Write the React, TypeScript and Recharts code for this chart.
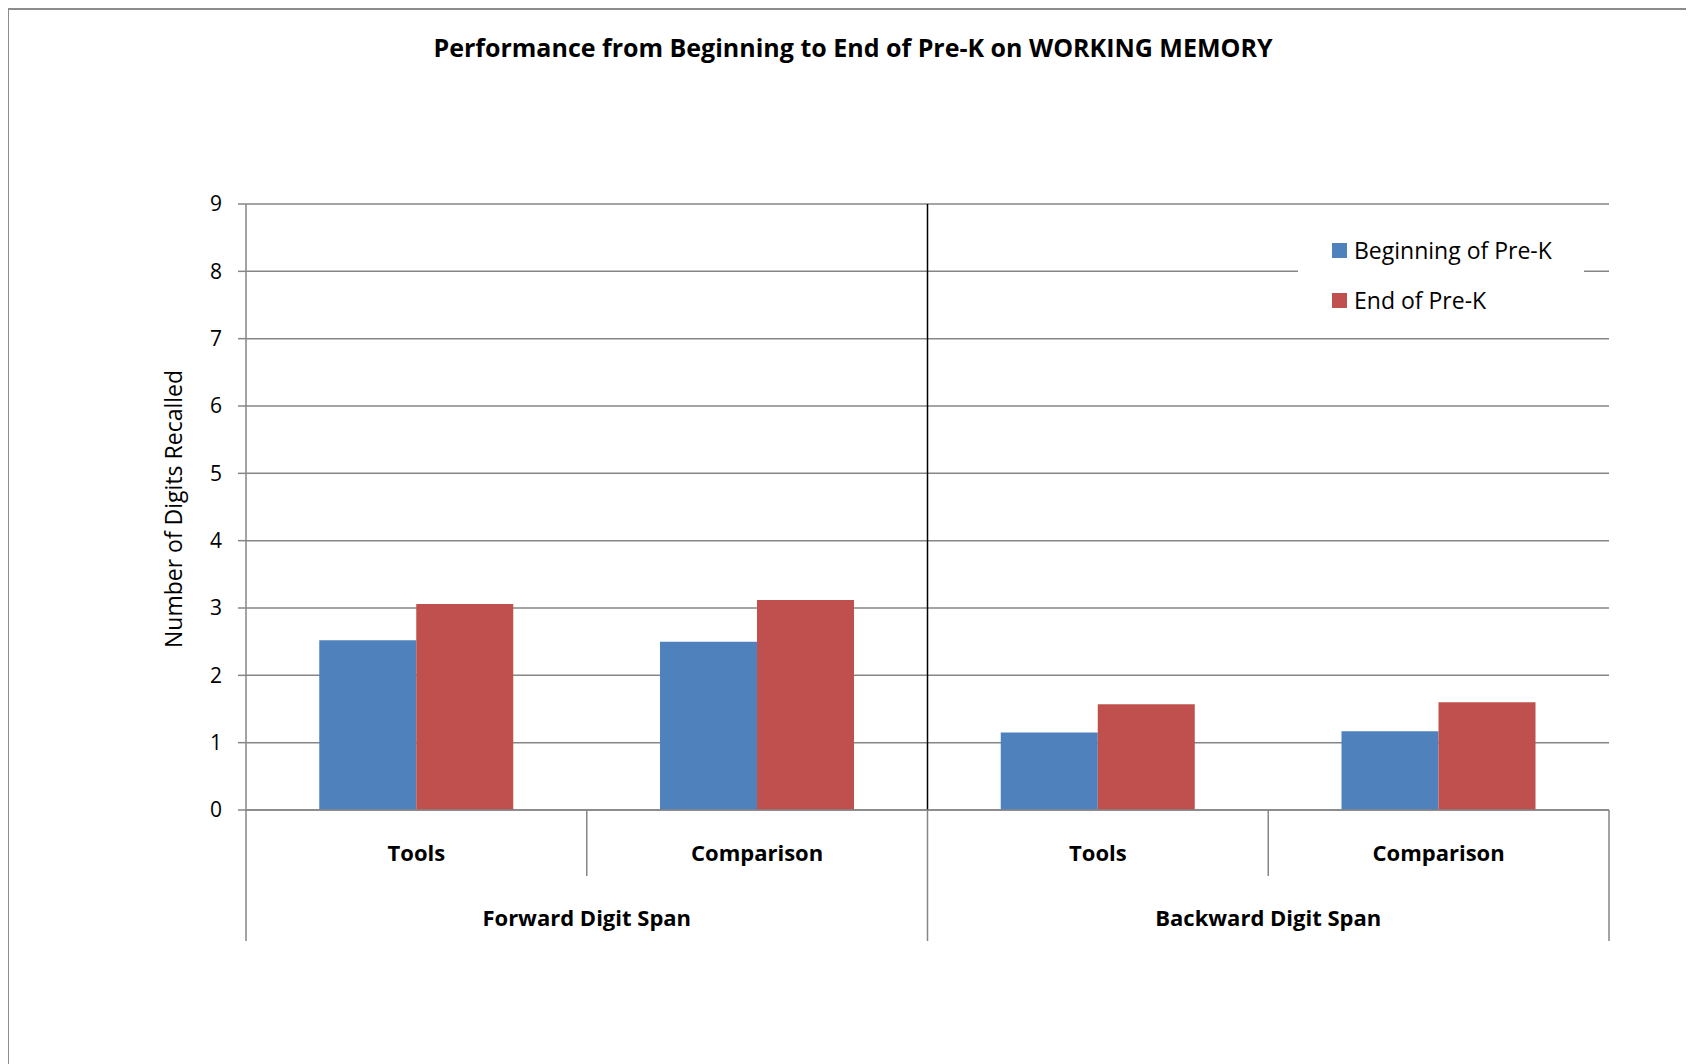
import React from "react";
import {
  BarChart,
  Bar,
  XAxis,
  YAxis,
  CartesianGrid,
  ReferenceLine,
} from "recharts";

// ---- data ----
const categoryKeys = ["fwd-tools", "fwd-comparison", "bwd-tools", "bwd-comparison"];
const categoryLabels = ["Tools", "Comparison", "Tools", "Comparison"];
const groupLabels = ["Forward Digit Span", "Backward Digit Span"];
const seriesNames = ["Beginning of Pre-K", "End of Pre-K"];
const beginningValues = [2.52, 2.5, 1.15, 1.17];
const endValues = [3.06, 3.12, 1.57, 1.6];
const yTicks = [0, 1, 2, 3, 4, 5, 6, 7, 8, 9];
const titleText = "Performance from Beginning to End of Pre-K on WORKING MEMORY";
const yAxisTitle = "Number of Digits Recalled";

const seriesColors = ["#4F81BD", "#C0504D"];

const data = categoryKeys.map((k, i) => ({
  key: k,
  beginning: beginningValues[i],
  end: endValues[i],
}));

// ---- layout ----
const FONT = "'Open Sans', 'Noto Sans', sans-serif";
const W = 1685;
const H = 1055;
const M = { top: 194, right: 85, left: 177, bottom: 115 };
const Y_AXIS_W = 60;
const X_AXIS_H = 140;
const PLOT_W = W - M.left - Y_AXIS_W - M.right;
const HALF_BAND = PLOT_W / categoryKeys.length / 2;
const GRID = "#868686";

const CategoryTick = (props: any) => {
  const { x, y, index } = props;
  const half = props?.payload?.offset && props.payload.offset > 10 ? props.payload.offset : HALF_BAND;
  const label = categoryLabels[index];
  const isGroupStart = index % 2 === 0;
  const isLast = index === categoryKeys.length - 1;
  const groupIdx = Math.floor(index / 2);
  return (
    <g>
      <text
        x={x}
        y={y + 42}
        textAnchor="middle"
        dominantBaseline="central"
        fontFamily={FONT}
        fontWeight={700}
        fontSize={22}
        fill="#000"
      >
        {label}
      </text>
      {isGroupStart ? (
        <>
          <line x1={x - half} x2={x - half} y1={y} y2={y + 131} stroke={GRID} strokeWidth={1.5} />
          <line x1={x + half} x2={x + half} y1={y} y2={y + 66} stroke={GRID} strokeWidth={1.5} />
          <text
            x={x + half}
            y={y + 107}
            textAnchor="middle"
            dominantBaseline="central"
            fontFamily={FONT}
            fontWeight={700}
            fontSize={22}
            fill="#000"
          >
            {groupLabels[groupIdx]}
          </text>
        </>
      ) : null}
      {isLast ? (
        <line x1={x + half} x2={x + half} y1={y} y2={y + 131} stroke={GRID} strokeWidth={1.5} />
      ) : null}
    </g>
  );
};

export default function App() {
  return (
    <div
      style={{
        position: "relative",
        width: 1686,
        height: 1056,
        boxSizing: "border-box",
        borderLeft: "1.5px solid #8c8c8c",
        borderTop: "2px solid #8c8c8c",
        background: "#fff",
        fontFamily: FONT,
      }}
    >
      <style>{"html,body{overflow:hidden}"}</style>
      <div
        style={{
          position: "absolute",
          left: 0,
          width: 1688,
          top: 20,
          textAlign: "center",
          fontWeight: 700,
          fontSize: 25,
          lineHeight: "34px",
          color: "#000",
        }}
      >
        {titleText}
      </div>
      <div
        style={{
          position: "absolute",
          left: 164 - 200,
          top: 499 - 16,
          width: 400,
          height: 32,
          lineHeight: "32px",
          textAlign: "center",
          fontSize: 23,
          color: "#000",
          transform: "rotate(-90deg)",
        }}
      >
        {yAxisTitle}
      </div>
      <div style={{ position: "absolute", left: 0, top: 0 }}>
        <BarChart
          width={W}
          height={H}
          data={data}
          margin={M}
          barCategoryGap="21.5%"
          barGap={0}
        >
          <CartesianGrid horizontal vertical={false} stroke={GRID} strokeWidth={1.5} />
          <XAxis
            dataKey="key"
            height={X_AXIS_H}
            axisLine={{ stroke: GRID, strokeWidth: 1.5 }}
            tickLine={false}
            tickSize={0}
            tickMargin={0}
            interval={0}
            tick={<CategoryTick />}
          />
          <YAxis
            width={Y_AXIS_W}
            domain={[0, 9]}
            ticks={yTicks}
            interval={0}
            axisLine={{ stroke: GRID, strokeWidth: 1.5 }}
            tickLine={{ stroke: GRID, strokeWidth: 1.5 }}
            tickSize={8}
            tickMargin={16}
            tick={{ fill: "#000", fontSize: 21, fontFamily: FONT }}
          />
          <ReferenceLine x={categoryKeys[2]} position="start" stroke="#000" strokeWidth={1.5} />
          <Bar dataKey="beginning" name={seriesNames[0]} fill={seriesColors[0]} isAnimationActive={false} />
          <Bar dataKey="end" name={seriesNames[1]} fill={seriesColors[1]} isAnimationActive={false} />
        </BarChart>
      </div>
      <div
        style={{
          position: "absolute",
          left: 1298 - 9,
          top: 224 - 9,
          width: 286,
          height: 100,
          background: "#fff",
        }}
      >
        {seriesNames.map((n, i) => (
          <div
            key={n}
            style={{
              height: 50,
              display: "flex",
              alignItems: "center",
              paddingLeft: 34,
              fontSize: 23,
              color: "#000",
            }}
          >
            <span
              style={{
                display: "inline-block",
                width: 15,
                height: 15,
                background: seriesColors[i],
                marginRight: 7,
              }}
            />
            {n}
          </div>
        ))}
      </div>
    </div>
  );
}
